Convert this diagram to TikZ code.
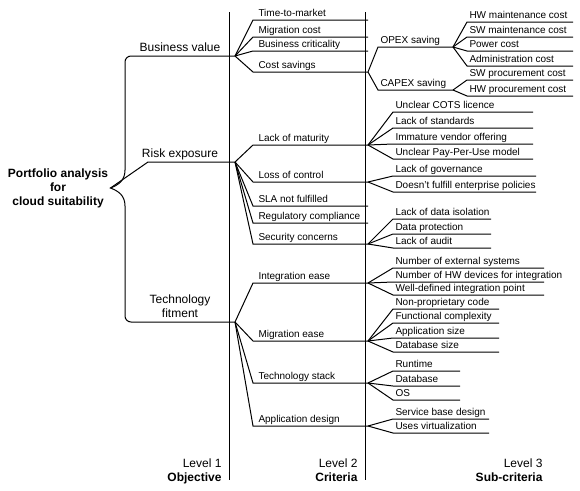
\documentclass[tikz,border=0pt]{standalone}
\usepackage{fontspec}
\setmainfont{Liberation Sans}
\usetikzlibrary{positioning,calc}

\begin{document}
\begin{tikzpicture}[x=1pt,y=-1pt,line width=1pt,font=\fontsize{10}{12}\selectfont,
 crit/.style={anchor=south west,inner xsep=5pt,inner ysep=0pt,text height=7.5pt,text depth=3pt,
   execute at begin node={\hbox to #1\bgroup},execute at end node={\hss\egroup}},crit/.default=104pt,
 sub/.style={crit=#1,inner xsep=2pt},
 topic/.style={anchor=south,align=center,inner sep=2pt,text depth=2.5pt,font=\fontsize{12}{14}\selectfont},
 goal/.style={align=center,inner sep=2pt,font=\fontsize{12}{14}\selectfont\bfseries},
 level/.style={anchor=south east,align=right,inner sep=2pt,text depth=2.5pt,font=\fontsize{12}{14}\selectfont}]
 \useasboundingbox[fill=white] (0,0) rectangle (580,490);
 % level separators
 \draw (229,12) -- (229,480); \draw (365,12) -- (365,480);
 % objective
 \node[goal] (root) at (58,188) {Portfolio analysis\\for\\cloud suitability};
 \node[topic] (bv) at (180,56) {Business value};
 \node[topic] (risk) at (180,162) {Risk exposure};
 \node[topic] (tech) at (180,322) {Technology\\fitment};
 \coordinate (bvj) at (235,56); \coordinate (riskj) at (235,162); \coordinate (techj) at (235,322);
 \draw[rounded corners=6pt] (bvj) -- (125,56) -- (125,170);
 \draw (125,170) .. controls (125,181) and (118,185) .. (root.east) .. controls (118,191) and (125,195) .. (125,206);
 \draw[rounded corners=6pt] (125,206) -- (125,322) -- (techj);
 \draw (riskj) -- (148,162) -- (root.east);
 % criteria
 \node[crit] (ttm) at (253,20) {Time-to-market};
 \node[crit] (migc) at (253,37) {Migration cost};
 \node[crit] (bcrit) at (253,51) {Business criticality};
 \node[crit] (costs) at (253,72) {Cost savings};
 \node[crit] (maturity) at (253,145) {Lack of maturity};
 \node[crit] (control) at (253,182) {Loss of control};
 \node[crit] (sla) at (253,206) {SLA not fulfilled};
 \node[crit] (regc) at (253,223) {Regulatory compliance};
 \node[crit] (security) at (253,244) {Security concerns};
 \node[crit] (integ) at (253,283) {Integration ease};
 \node[crit] (migr) at (253,341) {Migration ease};
 \node[crit] (stack) at (253,383) {Technology stack};
 \node[crit] (design) at (253,426) {Application design};
 % sub-criteria
 \node[sub=70pt] (opex) at (378,47) {OPEX saving};
 \node[sub=70pt] (capex) at (378,90) {CAPEX saving};
 \node[sub=101pt] (hwm) at (467,22) {HW maintenance cost};
 \node[sub=101pt] (swm) at (467,37) {SW maintenance cost};
 \node[sub=101pt] (power) at (467,51) {Power cost};
 \node[sub=101pt] (admin) at (467,66) {Administration cost};
 \node[sub=101pt] (swp) at (467,80) {SW procurement cost};
 \node[sub=101pt] (hwp) at (467,96) {HW procurement cost};
 \node[sub=135pt] (cots) at (393,112) {Unclear COTS licence};
 \node[sub=135pt] (stds) at (393,128) {Lack of standards};
 \node[sub=135pt] (vendor) at (393,144) {Immature vendor offering};
 \node[sub=135pt] (ppu) at (393,159) {Unclear Pay-Per-Use model};
 \node[sub=138pt] (gov) at (393,176) {Lack of governance};
 \node[sub=138pt] (policy) at (393,192) {Doesn’t fulfill enterprise policies};
 \node[sub=93pt] (isol) at (393,219) {Lack of data isolation};
 \node[sub=93pt] (dprot) at (393,234) {Data protection};
 \node[sub=93pt] (audit) at (393,248) {Lack of audit};
 \node[sub=146pt] (extsys) at (393,268) {Number of external systems};
 \node[sub=146pt] (hwdev) at (393,282) {Number of HW devices for integration};
 \node[sub=146pt] (wdip) at (393,295) {Well-defined integration point};
 \node[sub=101pt] (nonprop) at (393,309) {Non-proprietary code};
 \node[sub=101pt] (funcc) at (393,323) {Functional complexity};
 \node[sub=101pt] (appsize) at (393,338) {Application size};
 \node[sub=101pt] (dbsize) at (393,352) {Database size};
 \node[sub=62pt] (runtime) at (393,371) {Runtime};
 \node[sub=62pt] (dbase) at (393,386) {Database};
 \node[sub=62pt] (os) at (393,400) {OS};
 \node[sub=91pt] (sbd) at (393,419) {Service base design};
 \node[sub=91pt] (virt) at (393,433) {Uses virtualization};
 % fans
 \foreach \c in {ttm,migc,bcrit,costs} \draw (bvj) -- (\c.south west) -- (\c.south east);
 \foreach \c in {maturity,control,sla,regc,security} \draw (riskj) -- (\c.south west) -- (\c.south east);
 \foreach \c in {integ,migr,stack,design} \draw (techj) -- (\c.south west) -- (\c.south east);
 \foreach \c in {opex,capex} \draw (costs.south east) -- (\c.south west) -- (\c.south east);
 \foreach \c in {hwm,swm,power,admin} \draw (opex.south east) -- (\c.south west) -- (\c.south east);
 \foreach \c in {swp,hwp} \draw (capex.south east) -- (\c.south west) -- (\c.south east);
 \foreach \c in {cots,stds,vendor,ppu} \draw (maturity.south east) -- (\c.south west) -- (\c.south east);
 \foreach \c in {gov,policy} \draw (control.south east) -- (\c.south west) -- (\c.south east);
 \foreach \c in {isol,dprot,audit} \draw (security.south east) -- (\c.south west) -- (\c.south east);
 \foreach \c in {extsys,hwdev,wdip} \draw (integ.south east) -- (\c.south west) -- (\c.south east);
 \foreach \c in {nonprop,funcc,appsize,dbsize} \draw (migr.south east) -- (\c.south west) -- (\c.south east);
 \foreach \c in {runtime,dbase,os} \draw (stack.south east) -- (\c.south west) -- (\c.south east);
 \foreach \c in {sbd,virt} \draw (design.south east) -- (\c.south west) -- (\c.south east);
 % level captions
 \node[level] (lvlone) at (224,486) {Level 1\\\textbf{Objective}};
 \node[level] (lvltwo) at (360,486) {Level 2\\\textbf{Criteria}};
 \node[level] (lvlthree) at (545,486) {Level 3\\\textbf{Sub-criteria}};
\end{tikzpicture}
\end{document}
